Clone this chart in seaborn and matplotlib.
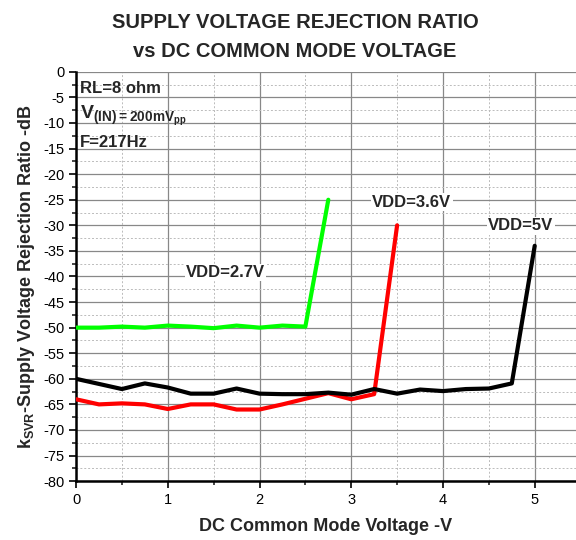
import numpy as np
import pandas as pd
import matplotlib
matplotlib.use('Agg')
import matplotlib.pyplot as plt
import seaborn as sns
from matplotlib.ticker import MultipleLocator

# values
x_27 = [0, 0.25, 0.5, 0.75, 1.0, 1.25, 1.5, 1.75, 2.0, 2.25, 2.5, 2.75]
y_27 = [-50, -50, -49.8, -50, -49.6, -49.8, -50.1, -49.6, -50, -49.6, -49.8, -25]

x_36 = [0, 0.25, 0.5, 0.75, 1.0, 1.25, 1.5, 1.75, 2.0, 2.25, 2.5, 2.75, 3.0, 3.25, 3.5]
y_36 = [-64, -65, -64.8, -65, -65.9, -65, -65, -66, -66, -65, -63.9, -62.8, -64, -63, -30]

x_5 = [0, 0.25, 0.5, 0.75, 1.0, 1.25, 1.5, 1.75, 2.0, 2.25, 2.5, 2.75, 3.0, 3.25,
       3.5, 3.75, 4.0, 4.25, 4.5, 4.75, 5.0]
y_5 = [-60, -61, -62, -60.9, -61.7, -62.9, -62.9, -61.9, -62.9, -63, -63, -62.7, -63.1,
       -62, -62.9, -62.1, -62.4, -62, -61.9, -60.9, -34]

series = ['VDD=2.7V', 'VDD=3.6V', 'VDD=5V']
colors = ['#00ff00', '#ff0000', '#000000']

df = pd.concat([
    pd.DataFrame({'v': x_27, 'svr': y_27, 'vdd': series[0]}),
    pd.DataFrame({'v': x_36, 'svr': y_36, 'vdd': series[1]}),
    pd.DataFrame({'v': x_5, 'svr': y_5, 'vdd': series[2]}),
])

sns.set_style('white')
plt.rcParams['font.family'] = ['Liberation Sans', 'DejaVu Sans']
plt.rcParams['axes.unicode_minus'] = False
plt.rcParams['mathtext.fontset'] = 'custom'
plt.rcParams['mathtext.rm'] = 'Liberation Sans'
plt.rcParams['mathtext.bf'] = 'Liberation Sans:bold'

fig = plt.figure(figsize=(5.76, 5.4), dpi=100)
ax = fig.add_axes([0.132, 0.109, 0.868, 0.758])

sns.lineplot(data=df, x='v', y='svr', hue='vdd', palette=dict(zip(series, colors)),
             lw=3, legend=False, ax=ax, zorder=3)

ax.set_xlim(0, 5.45)
ax.set_ylim(-80, 0)
ax.xaxis.set_major_locator(MultipleLocator(1))
ax.xaxis.set_minor_locator(MultipleLocator(0.5))
ax.yaxis.set_major_locator(MultipleLocator(5))
ax.yaxis.set_minor_locator(MultipleLocator(2.5))
ax.grid(which='major', color='#888888', lw=0.9)
ax.grid(which='minor', color='#bbbbbb', lw=0.7, ls=(0, (2, 2)))
ax.tick_params(which='major', direction='out', length=5, width=1.2, labelsize=10.5,
               left=True, bottom=True, colors='black')
ax.tick_params(which='minor', direction='out', length=3, width=1.2, left=True, bottom=True)
for s in ['top', 'right']:
    ax.spines[s].set_visible(False)
for s in ['left', 'bottom']:
    ax.spines[s].set_color('black')
    ax.spines[s].set_linewidth(1.8)

ax.set_xlabel('DC Common Mode Voltage -V', fontsize=13, fontweight='bold', labelpad=8)
ax.set_ylabel(r'k$_{\mathbf{SVR}}$-Supply Voltage Rejection Ratio -dB', fontsize=13,
              fontweight='bold', labelpad=4)
fig.suptitle('SUPPLY VOLTAGE REJECTION RATIO\nvs DC COMMON MODE VOLTAGE',
             x=0.512, y=0.975, fontsize=14.5, fontweight='bold', linespacing=1.65)

box = dict(facecolor='white', edgecolor='none', pad=1)
ax.text(1.63, -39.2, series[0], fontsize=12, fontweight='bold', ha='center', va='center',
        bbox=box, zorder=4)
ax.text(3.66, -25.5, series[1], fontsize=12, fontweight='bold', ha='center', va='center',
        bbox=box, zorder=4)
ax.text(4.85, -30.1, series[2], fontsize=12, fontweight='bold', ha='center', va='center',
        bbox=box, zorder=4)

ax.text(0.04, -3.3, 'RL=8 ohm', fontsize=12, fontweight='bold', va='center', zorder=4)
ax.text(0.04, -8.6, r'$\mathbf{V}_{\mathbf{(IN)=200mV}_{\mathbf{pp}}}$', fontsize=14,
        va='center', zorder=4)
ax.text(0.04, -13.9, 'F=217Hz', fontsize=12, fontweight='bold', va='center', zorder=4)

fig.savefig('out.png', dpi=100)
